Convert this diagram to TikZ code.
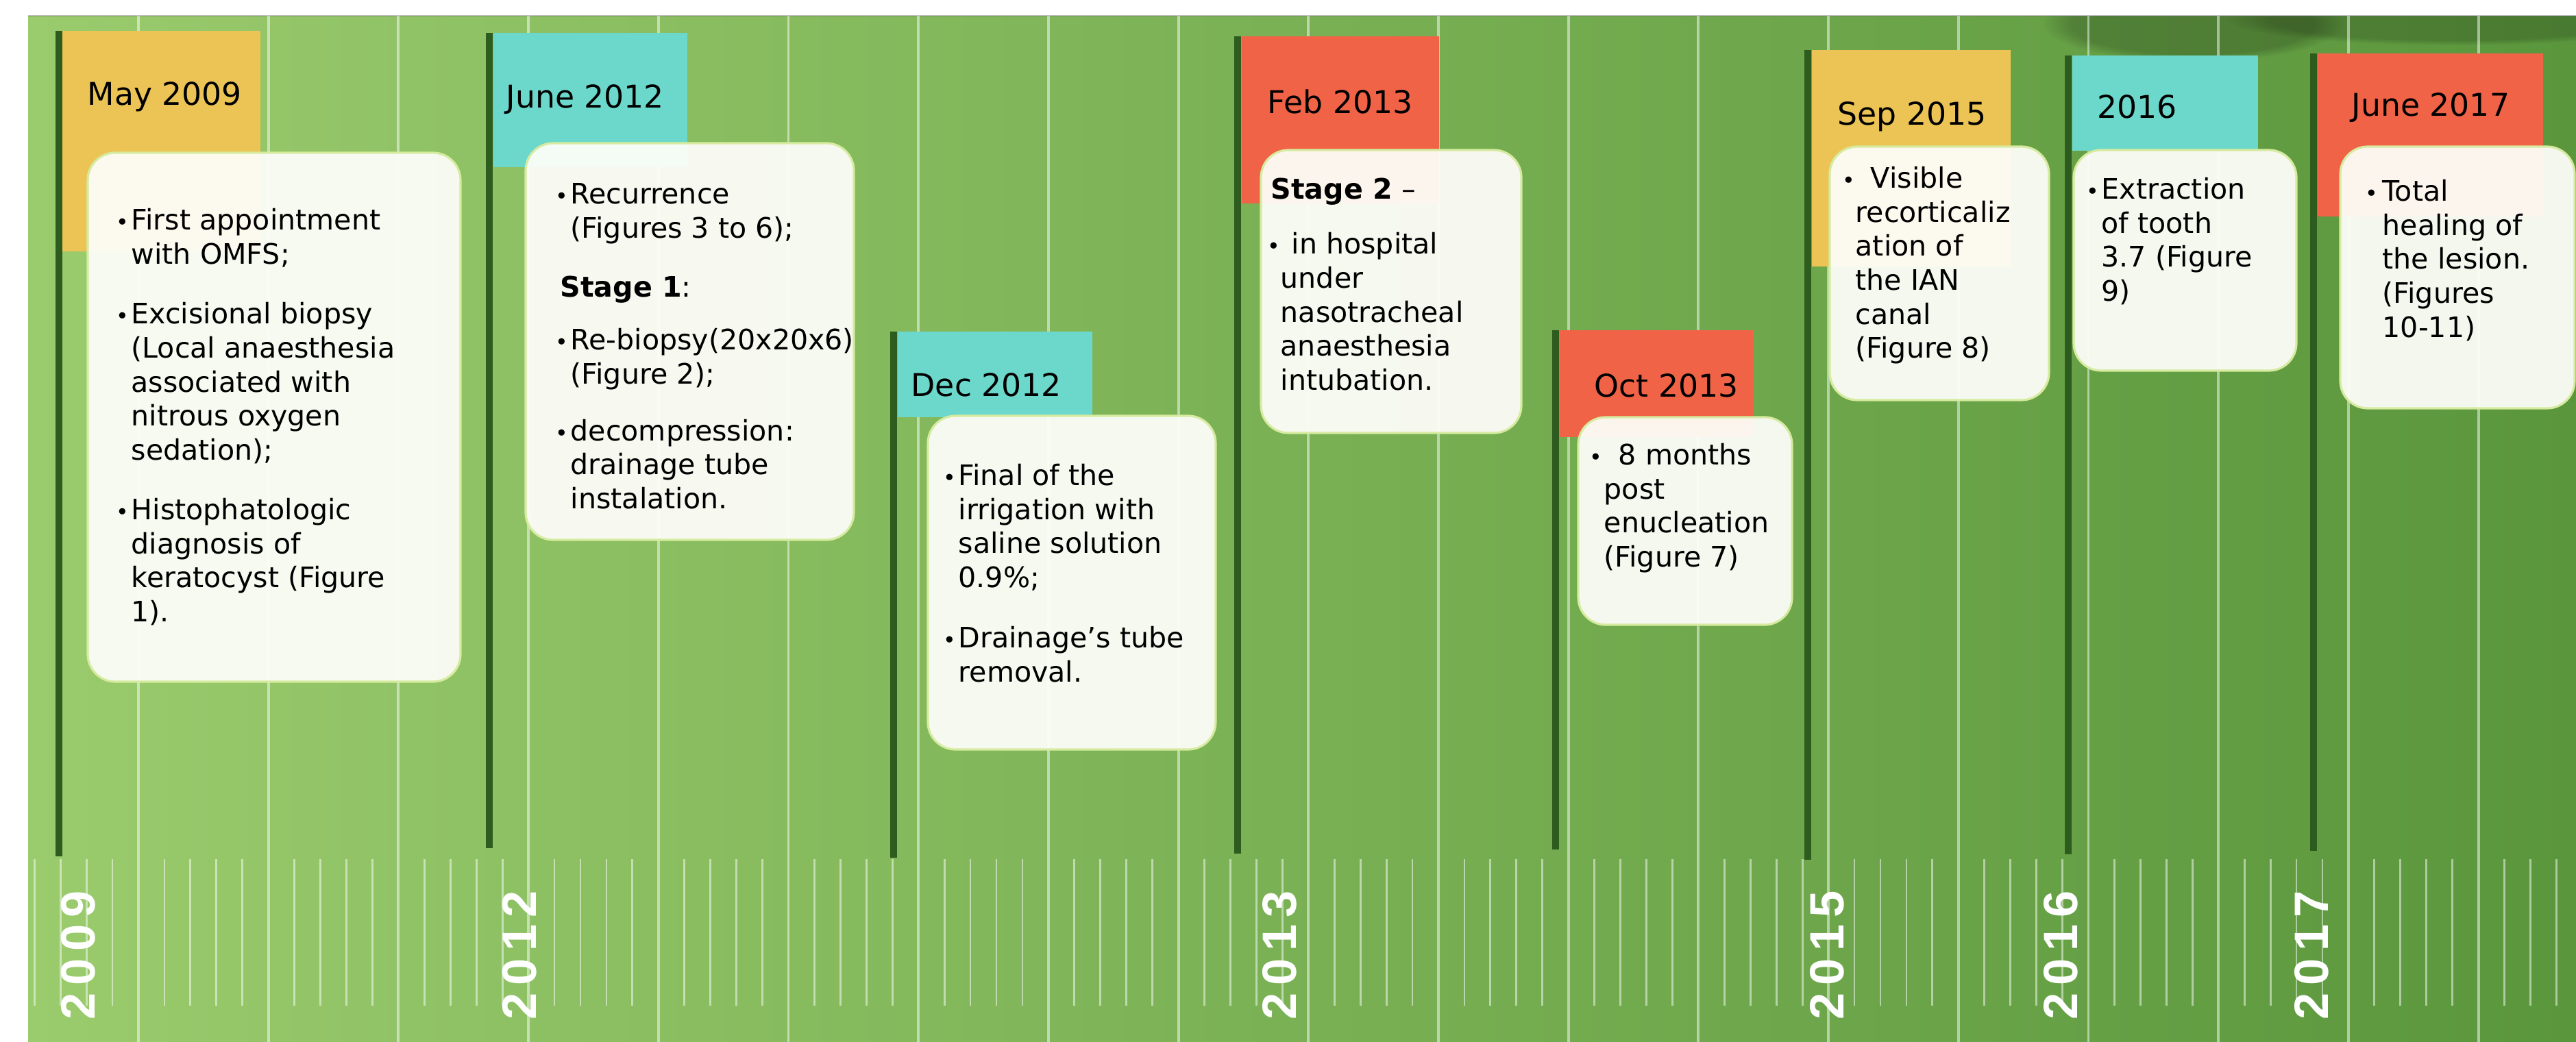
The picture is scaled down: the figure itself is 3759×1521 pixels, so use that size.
\documentclass[tikz,border=0pt]{standalone}
\usepackage{fontspec}
\setmainfont{DejaVu Sans}
\newfontfamily\yearfont{Liberation Sans}[LetterSpace=15]
\usetikzlibrary{fadings}
\definecolor{flagY}{HTML}{ECC456}
\definecolor{flagT}{HTML}{6CD8CC}
\definecolor{flagR}{HTML}{F16347}
\definecolor{bgL}{HTML}{9ACB6D}
\definecolor{bgM}{HTML}{7DB256}
\definecolor{bgR}{HTML}{5A963C}
\definecolor{barG}{HTML}{2E5B1E}
\definecolor{boxF}{HTML}{FDFDF8}
\definecolor{boxD}{HTML}{D6EBA0}
\newcommand\smallbul{{\fontsize{9}{9}\selectfont\textbullet}}
\newcommand\bul[1]{\llap{\smallbul\hspace*{#1}}}
\newcommand\fl{\rule{0pt}{10pt}}
\begin{document}
\begin{tikzpicture}[x=0.01cm, y=-0.01cm,
  bar/.style={barG, line width=3.1pt},
  evbox/.style={draw=boxD, line width=0.9pt, fill=boxF, fill opacity=0.95, rounded corners=0.4cm},
  title/.style={anchor=base west, inner sep=0pt, font=\fontsize{13}{15}\selectfont},
  body/.style={anchor=north west, yshift=10pt, inner sep=0pt, align=left, font=\fontsize{11.7}{14.1}\selectfont},
  yearlbl/.style={rotate=90, anchor=base west, inner sep=0pt, text=white, font=\yearfont\bfseries\fontsize{20}{20}\selectfont},
  longline/.style={white, opacity=0.5, line width=1.1pt},
  tickline/.style={white, opacity=0.5, line width=0.8pt}
]
\useasboundingbox (0,0) rectangle (3759,1521);
% background
\shade[left color=bgL, middle color=bgM, right color=bgR] (41,23) rectangle (3759,1521);
\begin{scope}
  \clip (41,23) rectangle (3759,1521);
  \fill[black, opacity=0.2, path fading=circle with fuzzy edge 20 percent] (3200,35) ellipse [x radius=220, y radius=55];
  \fill[black, opacity=0.18, path fading=circle with fuzzy edge 20 percent] (3580,28) ellipse [x radius=330, y radius=38];
\end{scope}
\draw[black!60, opacity=0.4, line width=0.6pt] (41,23) -- (3759,23);
% grid lines
\foreach \i in {0,...,18} \draw[longline] ({202+189.7*\i},23) -- ({202+189.7*\i},1521);
\foreach \b in {-1,...,18} \foreach \j in {1,2,3,4}
  \draw[tickline] ({202+189.7*\b+37.94*\j},1254) -- ({202+189.7*\b+37.94*\j},1468);
% bars
\draw[bar] (86,45) -- (86,1250);
\draw[bar] (714,48) -- (714,1238);
\draw[bar] (1304,484) -- (1304,1252);
\draw[bar] (1806,53) -- (1806,1246);
\draw[bar] (2270,482) -- (2270,1240);
\draw[bar] (2638,73) -- (2638,1255);
\draw[bar] (3018,81) -- (3018,1247);
\draw[bar] (3376,78) -- (3376,1242);
% flags
\fill[flagY] (91,45) rectangle (380,367);
\fill[flagT] (720,48) rectangle (1003,244);
\fill[flagT] (1310,484) rectangle (1594,609);
\fill[flagR] (1812,53) rectangle (2100,297);
\fill[flagR] (2276,482) rectangle (2558,638);
\fill[flagY] (2644,73) rectangle (2934,389);
\fill[flagT] (3024,81) rectangle (3295,220);
\fill[flagR] (3382,78) rectangle (3711,316);
% titles
\node[title] (t1) at (127,153) {May 2009};
\node[title] (t2) at (738,157) {June 2012};
\node[title] (t3) at (1329,578) {Dec 2012};
\node[title] (t4) at (1849,165) {Feb 2013};
\node[title] (t5) at (2326,579) {Oct 2013};
\node[title] (t6) at (2681,182) {Sep 2015};
\node[title] (t7) at (3060,172) {2016};
\node[title] (t8) at (3431,169) {June 2017};
% boxes
\draw[evbox] (128,223) rectangle (672,995);
\draw[evbox] (767,209) rectangle (1246,788);
\draw[evbox] (1354,607) rectangle (1774,1094);
\draw[evbox] (1840,219) rectangle (2220,632);
\draw[evbox] (2303,609) rectangle (2615,912);
\draw[evbox] (2670,214) rectangle (2990,584);
\draw[evbox] (3026,219) rectangle (3351,541);
\draw[evbox] (3415,214) rectangle (3757,596);
% box texts
\node[body] (b1) at (191,335) {\fl\bul{1.1pt}First appointment\\
with OMFS;\\[10.8pt]
\bul{1.1pt}Excisional biopsy\\
(Local anaesthesia\\
associated with\\
nitrous oxygen\\
sedation);\\[10.8pt]
\bul{1.1pt}Histophatologic\\
diagnosis of\\
keratocyst (Figure\\
1).};
\node[body] (b2) at (832,297) {\fl\bul{1.1pt}Recurrence\\
(Figures 3 to 6);\\[10.4pt]
\hspace*{-4.3pt}\textbf{Stage 1}:\\[7.8pt]
\bul{1.1pt}Re-biopsy(20x20x6)\\
(Figure 2);\\[9.5pt]
\bul{1.1pt}decompression:\\
drainage tube\\
instalation.};
\node[body] (b3) at (1398,708) {\fl\bul{1.1pt}Final of the\\
irrigation with\\
saline solution\\
0.9\%;\\[11pt]
\bul{1.1pt}Drainage’s tube\\
removal.};
\node[body] (b4) at (1868,290) {\fl\hspace*{-4pt}\textbf{Stage 2} –\\[8.7pt]
\hspace*{4.55pt}\bul{4.8pt}in hospital\\
under\\
nasotracheal\\
anaesthesia\\
intubation.};
\node[body] (b5) at (2340,678) {\fl\hspace*{6pt}\bul{6.8pt}8 months\\
post\\
enucleation\\
(Figure 7)};
\node[body] (b6) at (2707,274) {\fl\hspace*{6.3pt}\bul{6.5pt}Visible\\
recorticaliz\\
ation of\\
the IAN\\
canal\\
(Figure 8)};
\node[body] (b7) at (3066,290) {\fl\bul{1.1pt}Extraction\\
of tooth\\
3.7 (Figure\\
9)};
\node[body] (b8) at (3476,293) {\fl\bul{2pt}Total\\
healing of\\
the lesion.\\
(Figures\\
10-11)};
% year labels
\node[yearlbl] (y1) at (138,1489) {2009};
\node[yearlbl] (y2) at (782,1489) {2012};
\node[yearlbl] (y3) at (1891,1489) {2013};
\node[yearlbl] (y4) at (2690,1489) {2015};
\node[yearlbl] (y5) at (3031,1489) {2016};
\node[yearlbl] (y6) at (3397,1489) {2017};
\end{tikzpicture}
\end{document}
